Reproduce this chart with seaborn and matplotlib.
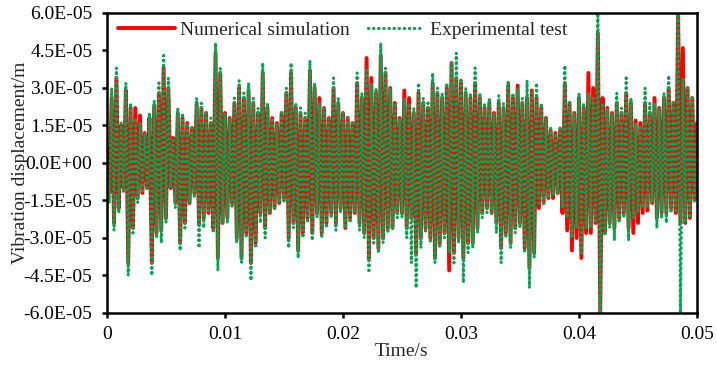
import numpy as np
import pandas as pd
import matplotlib
matplotlib.use("Agg")
import matplotlib.pyplot as plt
import seaborn as sns
from matplotlib.ticker import FuncFormatter

# ---- data (displacement in units of 1e-5 m) ----
t_start, t_end, n_samples = 0.0, 0.05, 251
unit = 1e-5

numerical = [
    0.6, -1.2, 2.6, -2.4, 3.4, -1.8, 1.5, -1.0, 2.9, -4.0,
    2.2, -2.6, 2.2, -1.4, 1.9, -1.2, 1.2, -1.0, 1.8, -4.0,
    2.3, -2.8, 2.8, -2.7, 3.8, -2.2, 3.0, -1.0, 1.0, -1.6,
    2.0, -3.2, 1.8, -2.4, 1.6, -1.6, 1.4, -1.2, 2.4, -2.4,
    2.2, -2.2, 2.0, -2.0, 1.6, -2.6, 4.4, -3.8, 3.6, -2.4,
    2.0, -2.2, 1.8, -1.6, 2.4, -3.0, 3.0, -3.8, 2.6, -2.8,
    2.9, -4.0, 2.4, -3.2, 2.0, -2.0, 3.6, -2.6, 2.2, -2.0,
    1.8, -1.8, 1.6, -1.6, 2.0, -1.4, 2.8, -3.0, 3.6, -2.4,
    2.2, -3.5, 2.0, -2.8, 1.8, -2.2, 3.7, -2.8, 3.0, -2.0,
    2.6, -2.8, 2.2, -2.4, 1.8, -2.0, 3.0, -2.4, 2.4, -1.8,
    2.0, -2.6, 1.8, -2.2, 1.6, -2.0, 3.2, -2.4, 2.6, -2.8,
    4.2, -3.8, 3.4, -3.0, 2.8, -3.4, 4.3, -3.0, 3.6, -2.6,
    3.0, -2.6, 2.4, -2.0, 1.8, -2.0, 2.9, -2.6, 2.6, -2.2,
    2.0, -3.6, 2.8, -3.0, 2.4, -2.6, 2.2, -3.0, 3.2, -3.8,
    2.8, -3.2, 2.6, -2.8, 3.0, -4.3, 4.0, -3.6, 3.4, -3.0,
    3.2, -3.8, 2.8, -3.2, 2.6, -3.2, 3.2, -2.6, 2.6, -2.0,
    2.2, -1.8, 2.4, -2.0, 2.0, -2.4, 2.4, -3.4, 2.2, -2.8,
    3.1, -3.2, 2.6, -2.6, 3.1, -2.4, 2.4, -3.4, 2.6, -4.2,
    2.9, -3.6, 2.6, -1.8, 2.2, -1.6, 1.8, -1.4, 1.3, -1.4,
    1.2, -1.2, 1.3, -2.0, 3.2, -2.7, 2.4, -3.5, 2.0, -3.0,
    2.6, -3.8, 2.2, -2.8, 3.6, -2.8, 3.0, -2.4, 5.2, -6.0,
    2.6, -2.8, 2.2, -2.4, 2.0, -2.6, 2.4, -2.2, 2.0, -2.0,
    2.8, -2.6, 2.4, -2.8, 1.7, -2.4, 1.6, -2.0, 2.4, -1.9,
    2.0, -1.6, 2.6, -2.2, 2.2, -2.0, 2.6, -2.0, 3.0, -1.8,
    2.4, -2.0, 6.0, -2.4, 4.6, -2.4, 3.0, -2.2, 2.6, -1.5,
    1.6,
]

experimental = [
    0.4, -1.6, 3.0, -2.7, 3.8, -2.0, 1.6, -1.2, 3.2, -4.5,
    2.4, -2.8, 1.8, -1.6, 1.6, -1.2, 1.2, -1.0, 2.0, -4.5,
    2.5, -3.0, 3.2, -3.2, 4.3, -2.4, 3.4, -1.0, 1.0, -1.8,
    2.2, -3.5, 2.0, -2.6, 1.6, -1.6, 1.4, -1.4, 2.6, -3.4,
    2.4, -2.6, 2.0, -2.0, 1.8, -2.8, 4.8, -4.3, 3.8, -2.4,
    2.0, -2.4, 1.8, -1.8, 2.6, -3.2, 3.3, -4.0, 2.8, -3.0,
    3.2, -4.7, 2.6, -3.4, 2.2, -2.4, 4.0, -3.0, 2.4, -2.0,
    1.8, -1.8, 1.6, -1.6, 2.0, -1.6, 3.0, -3.4, 4.0, -2.6,
    2.4, -3.8, 2.2, -3.0, 2.0, -2.4, 4.1, -3.1, 3.2, -2.2,
    2.4, -3.0, 2.2, -2.6, 1.8, -2.2, 3.4, -2.7, 2.6, -2.0,
    2.0, -2.6, 1.8, -2.4, 1.6, -2.0, 3.6, -2.7, 2.8, -3.0,
    3.8, -4.3, 3.2, -3.2, 3.0, -3.6, 4.8, -3.2, 3.8, -2.8,
    3.0, -2.6, 2.4, -2.2, 1.8, -2.2, 2.6, -3.0, 2.4, -4.0,
    2.2, -5.0, 3.2, -3.4, 2.6, -2.8, 2.4, -3.2, 3.6, -4.0,
    3.0, -3.4, 2.8, -3.0, 3.2, -3.6, 4.0, -4.0, 4.4, -3.2,
    3.4, -4.8, 3.0, -3.6, 2.8, -3.4, 3.8, -2.8, 2.8, -2.2,
    2.4, -2.0, 2.6, -2.0, 2.0, -2.8, 2.7, -4.0, 2.4, -3.0,
    3.3, -3.4, 2.8, -2.8, 3.0, -2.6, 2.6, -3.6, 3.3, -5.0,
    2.8, -3.8, 3.2, -1.6, 2.4, -1.6, 1.8, -1.4, 1.4, -1.3,
    1.2, -1.2, 1.4, -1.8, 3.9, -2.2, 2.4, -3.0, 2.0, -2.6,
    2.8, -3.6, 2.4, -2.6, 2.8, -2.6, 2.6, -2.4, 6.0, -6.0,
    2.4, -2.9, 2.2, -2.6, 2.0, -3.1, 2.8, -2.4, 2.2, -2.2,
    3.4, -3.1, 2.6, -2.2, 1.6, -2.0, 1.5, -1.8, 3.0, -1.8,
    2.4, -1.6, 2.4, -2.6, 2.2, -2.2, 2.8, -2.4, 3.5, -2.0,
    2.4, -2.0, 6.0, -6.0, 3.4, -2.4, 3.0, -2.2, 2.6, -1.6,
    1.4,
]

series_labels = ["Numerical simulation", "Experimental test"]
x_ticks = [0, 0.01, 0.02, 0.03, 0.04, 0.05]
y_ticks = [-6.0e-5, -4.5e-5, -3.0e-5, -1.5e-5, 0.0, 1.5e-5, 3.0e-5, 4.5e-5, 6.0e-5]

time = np.linspace(t_start, t_end, n_samples)
df_num = pd.DataFrame({"Time": time, "Disp": np.array(numerical) * unit})
df_exp = pd.DataFrame({"Time": time, "Disp": np.array(experimental) * unit})

# ---- style ----
sns.set_style("ticks")
plt.rcParams["font.family"] = ["Liberation Serif", "DejaVu Serif"]
plt.rcParams["font.size"] = 14

fig = plt.figure(figsize=(7.17, 3.70), dpi=100)
ax = fig.add_axes([0.1492, 0.1541, 0.8229, 0.8108])

sns.lineplot(data=df_num, x="Time", y="Disp", ax=ax, color="#FF0000",
             linewidth=2.8, estimator=None, sort=False, label=series_labels[0])
sns.lineplot(data=df_exp, x="Time", y="Disp", ax=ax, color="#00A650",
             linewidth=2.3, estimator=None, sort=False,
             label=series_labels[1], linestyle=(0, (0.1, 1.5)),
             dash_capstyle="round")

ax.set_xlim(0, 0.05)
ax.set_ylim(-6.0e-5, 6.0e-5)
ax.set_xticks(x_ticks)
ax.set_yticks(y_ticks)
ax.xaxis.set_major_formatter(FuncFormatter(lambda v, p: "0" if v == 0 else f"{v:g}"))


def sci(v, p):
    s = f"{v:.1E}"
    if abs(v) < 1e-12:
        s = "0.0E+00"
    return s


ax.yaxis.set_major_formatter(FuncFormatter(sci))
ax.set_xlabel("Time/s", fontsize=14, labelpad=0)
ax.set_ylabel("Vibration displacement/m", fontsize=14)
ax.yaxis.set_label_coords(-0.133, 0.5)

for sp in ax.spines.values():
    sp.set_visible(True)
    sp.set_linewidth(1.8)
    sp.set_color("black")
ax.tick_params(axis="both", direction="out", length=3.5, width=1.8,
               labelsize=14, colors="black")
ax.tick_params(axis="x", pad=6)
ax.tick_params(axis="y", pad=7)

leg = ax.legend(loc="upper left", bbox_to_anchor=(0.019, 0.972), ncol=2,
                frameon=False, fontsize=14, handlelength=2.9,
                handletextpad=0.3, columnspacing=0.9, borderpad=0,
                borderaxespad=0)

fig.savefig("out.png", dpi=100)
